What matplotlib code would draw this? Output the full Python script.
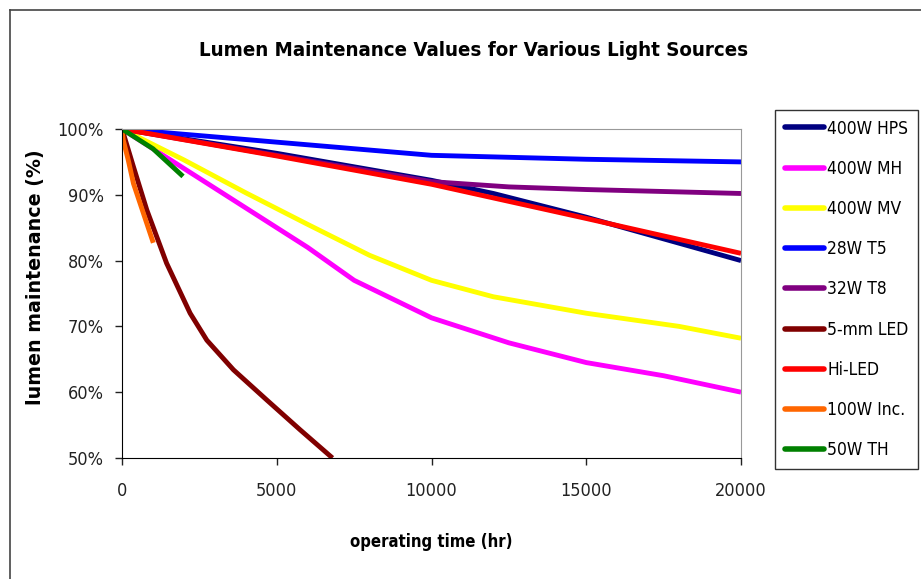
import matplotlib.pyplot as plt
from matplotlib.lines import Line2D
from matplotlib.ticker import FuncFormatter

plt.rcParams['font.family'] = ['DejaVu Sans']
plt.rcParams['font.stretch'] = 'condensed'

# series: (label, colour, hours, percent)
hps_t = [0, 5000, 10000, 12000, 15000, 20000]
hps_v = [100, 96.3, 92.2, 90.2, 86.6, 80.0]
mh_t = [0, 2000, 4000, 6000, 7500, 10000, 12500, 15000, 17500, 20000]
mh_v = [100, 94.0, 88.0, 82.0, 77.0, 71.3, 67.5, 64.5, 62.5, 60.0]
mv_t = [0, 2000, 4000, 6000, 8000, 10000, 12000, 15000, 18000, 20000]
mv_v = [100, 95.3, 90.3, 85.5, 80.8, 77.0, 74.5, 72.0, 70.0, 68.2]
t5_t = [0, 5000, 10000, 15000, 20000]
t5_v = [100, 98.0, 96.0, 95.4, 95.0]
t8_t = [0, 5000, 10000, 12500, 15000, 20000]
t8_v = [100, 96.0, 92.0, 91.2, 90.8, 90.2]
led5_t = [0, 366, 800, 1440, 2200, 2740, 3600, 4680, 5750, 6800]
led5_v = [100, 94.3, 87.7, 79.6, 72.0, 67.9, 63.4, 58.8, 54.3, 50.0]
hiled_t = [0, 5000, 10000, 15000, 20000]
hiled_v = [100, 95.9, 91.6, 86.4, 81.1]
inc_t = [0, 40, 200, 370, 690, 1010]
inc_v = [100, 98.3, 95.3, 91.7, 87.2, 82.7]
th_t = [0, 1000, 1970]
th_v = [100, 97.0, 92.8]

series = [
    ("400W HPS", "#000080", hps_t, hps_v),
    ("400W MH", "#ff00ff", mh_t, mh_v),
    ("400W MV", "#ffff00", mv_t, mv_v),
    ("28W T5", "#0000ff", t5_t, t5_v),
    ("32W T8", "#800080", t8_t, t8_v),
    ("5-mm LED", "#800000", led5_t, led5_v),
    ("Hi-LED", "#ff0000", hiled_t, hiled_v),
    ("100W Inc.", "#ff6600", inc_t, inc_v),
    ("50W TH", "#008000", th_t, th_v),
]

fig = plt.figure(figsize=(9.21, 5.79), dpi=100)
ax = fig.add_axes([0.1325, 0.209, 0.6721, 0.5682])

for label, color, t, v in series:
    ax.plot(t, v, color=color, lw=3.5, label=label, solid_capstyle='butt')

ax.set_xlim(0, 20000)
ax.set_ylim(50, 100)
ax.set_xticks([0, 5000, 10000, 15000, 20000])
ax.set_yticks([50, 60, 70, 80, 90, 100])
ax.yaxis.set_major_formatter(FuncFormatter(lambda v, p: f"{v:.0f}%"))
ax.tick_params(direction='out', length=5, width=1, labelsize=13, colors='#222222')
ax.tick_params(axis='x', pad=12)
ax.tick_params(axis='y', pad=8)
for side in ['top', 'right']:
    ax.spines[side].set_color('#999999')
for side in ['left', 'bottom']:
    ax.spines[side].set_color('#000000')

ax.set_xlabel("operating time (hr)", fontsize=12, fontweight='bold', labelpad=24)
ax.set_ylabel("lumen maintenance (%)", fontsize=13.7, fontweight='bold',
              fontstretch='normal')
ax.yaxis.set_label_coords(-0.124, 0.55)
fig.text(0.514, 0.913, "Lumen Maintenance Values for Various Light Sources",
         ha='center', va='center', fontsize=14.7, fontweight='bold')

leg = ax.legend(loc='upper left', bbox_to_anchor=(775 / 921, 1 - 110 / 579),
                bbox_transform=fig.transFigure, frameon=True, fancybox=False,
                edgecolor='black', fontsize=12.5, handlelength=2.3, handletextpad=0.15,
                labelspacing=1.28, borderpad=0.55, borderaxespad=0)
leg.get_frame().set_linewidth(1)
for line in leg.get_lines():
    line.set_linewidth(4)
    line.set_solid_capstyle('round')

# outer frame (top and left edges only visible)
fig.add_artist(Line2D([10 / 921, 1], [1 - 10 / 579, 1 - 10 / 579],
                      transform=fig.transFigure, color='#444444', lw=1.2))
fig.add_artist(Line2D([10 / 921, 10 / 921], [0, 1 - 10 / 579],
                      transform=fig.transFigure, color='#444444', lw=1.2))

fig.savefig("out.png", dpi=100)
